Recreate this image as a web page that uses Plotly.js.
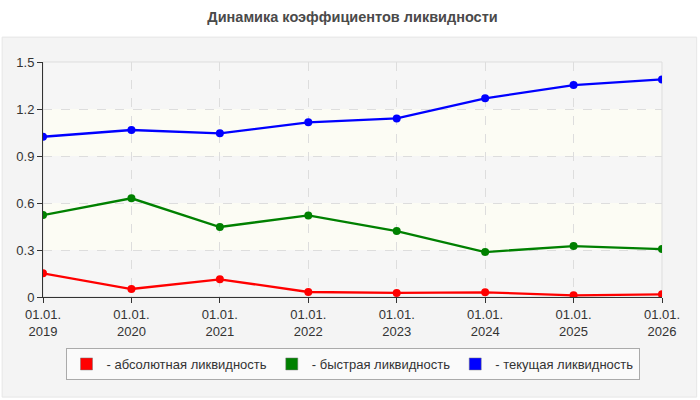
<!DOCTYPE html>
<html>
<head>
<meta charset="utf-8">
<script src="https://cdn.plot.ly/plotly-3.0.1.min.js"></script>
<style>
  html, body { margin: 0; padding: 0; background: #fff; }
  #chart { width: 700px; height: 400px; }
</style>
</head>
<body>
<div id="chart"></div>
<script>
(function () {
    'use strict';

    // Dates on the x axis (two-line tick labels)
    const dates = ['01.01.2019', '01.01.2020', '01.01.2021', '01.01.2022',
                   '01.01.2023', '01.01.2024', '01.01.2025', '01.01.2026'];
    const tickLabels = dates.map(d => d.slice(0, 6) + '<br>' + d.slice(6));

    // Liquidity ratios
    const absolute = [0.151, 0.051, 0.113, 0.032, 0.026, 0.030, 0.011, 0.017];
    const quick    = [0.523, 0.630, 0.447, 0.521, 0.421, 0.287, 0.325, 0.306];
    const current  = [1.023, 1.066, 1.045, 1.115, 1.140, 1.268, 1.353, 1.389];

    const seriesNames = ['- абсолютная ликвидность', '- быстрая ликвидность', '- текущая ликвидность'];
    const seriesColors = ['#ff0000', '#008000', '#0000ff'];
    const seriesValues = [absolute, quick, current];

    const yTicks = [0, 0.3, 0.6, 0.9, 1.2, 1.5];

    const COLORS = {
        text: '#333333',
        title: '#4a4a4a',
        panel: '#f4f4f4',
        panelLine: '#e6e6e6',
        grid: '#dddddd',
        axis: '#333333',
        bandA: '#f6f6f6',
        bandB: '#fcfcf4'
    };

    const xIdx = dates.map((_, i) => i);

    const traces = [];
    seriesValues.forEach((vals, i) => {
        traces.push({
            x: xIdx,
            y: vals,
            type: 'scatter',
            mode: 'lines+markers',
            line: { color: seriesColors[i], width: 2.3 },
            marker: { color: seriesColors[i], size: 8 },
            showlegend: false,
            hoverinfo: 'skip'
        });
    });
    // legend swatches (rectangles, like the original)
    seriesValues.forEach((vals, i) => {
        traces.push({
            x: [null],
            y: [null],
            type: 'bar',
            name: seriesNames[i],
            marker: { color: seriesColors[i], line: { color: '#777', width: 0.5 } },
            showlegend: true
        });
    });

    // panel + alternating background bands between y ticks
    const shapes = [
        {
            type: 'rect', xref: 'paper', yref: 'paper', layer: 'below',
            x0: -0.066, x1: 1.056, y0: -0.426, y1: 1.106,
            fillcolor: COLORS.panel, line: { color: COLORS.panelLine, width: 1 }
        }
    ];
    for (let i = 0; i < yTicks.length - 1; i++) {
        shapes.push({
            type: 'rect', xref: 'paper', yref: 'y', layer: 'below',
            x0: 0, x1: 1, y0: yTicks[i], y1: yTicks[i + 1],
            fillcolor: i % 2 === 0 ? COLORS.bandA : COLORS.bandB,
            line: { width: 0 }
        });
    }
    shapes.push({
        type: 'rect', xref: 'paper', yref: 'paper', layer: 'below',
        x0: 0, x1: 1, y0: 0, y1: 1,
        fillcolor: 'rgba(0,0,0,0)', line: { color: COLORS.grid, width: 1 }
    });

    const layout = {
        width: 700,
        height: 400,
        paper_bgcolor: '#ffffff',
        plot_bgcolor: 'rgba(0,0,0,0)',
        font: { family: '"Liberation Sans", Arial, sans-serif', color: COLORS.text, size: 12 },
        margin: { l: 43, r: 38, t: 62, b: 103 },
        title: {
            text: 'Динамика коэффициентов ликвидности',
            font: { size: 14.5, color: COLORS.title, weight: 'bold' },
            x: 0.5, xref: 'paper', xanchor: 'center',
            y: 1, yref: 'container', yanchor: 'top', pad: { t: 12 }
        },
        xaxis: {
            type: 'linear',
            range: [0, 7],
            tickvals: xIdx,
            ticktext: tickLabels,
            showgrid: true,
            gridcolor: COLORS.grid,
            griddash: 'dash',
            zeroline: false,
            showline: true,
            linecolor: COLORS.axis,
            linewidth: 1,
            ticks: 'outside',
            ticklen: 5,
            tickcolor: COLORS.axis,
            tickfont: { size: 13, color: COLORS.text },
            fixedrange: true
        },
        yaxis: {
            range: [0, 1.5],
            tickvals: yTicks,
            showgrid: true,
            gridcolor: COLORS.grid,
            griddash: 'dash',
            zeroline: false,
            showline: true,
            linecolor: COLORS.axis,
            linewidth: 1,
            ticks: 'outside',
            ticklen: 5,
            tickcolor: COLORS.axis,
            tickfont: { size: 13, color: COLORS.text },
            fixedrange: true
        },
        shapes: shapes,
        showlegend: true,
        legend: {
            orientation: 'h',
            x: 0.5,
            xanchor: 'center',
            xref: 'paper',
            y: 0.09,
            yref: 'container',
            yanchor: 'middle',
            bgcolor: '#fafafa',
            bordercolor: '#aaaaaa',
            borderwidth: 1,
            font: { size: 13, color: COLORS.text },
            itemwidth: 30,
            traceorder: 'normal'
        }
    };

    Plotly.newPlot('chart', traces, layout, { displayModeBar: false, staticPlot: true });
})();
</script>
</body>
</html>
